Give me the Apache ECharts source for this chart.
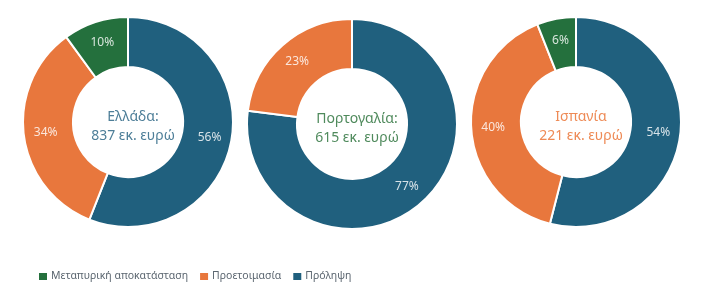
<!DOCTYPE html>
<html>
<head>
<meta charset="utf-8">
<script src="https://cdn.jsdelivr.net/npm/echarts@6/dist/echarts.min.js"></script>
<style>
html,body{margin:0;padding:0;background:#fff;}
#c{width:702px;height:294px;}
</style>
</head>
<body>
<div id="c"></div>
<script>
const categories = ['Πρόληψη', 'Προετοιμασία', 'Μεταπυρική αποκατάσταση'];
const greeceValues = [56, 34, 10];
const portugalValues = [77, 23, 0];
const spainValues = [54, 40, 6];
const countryLabels = ['Ελλάδα:\n837 εκ. ευρώ', 'Πορτογαλία:\n615 εκ. ευρώ', 'Ισπανία\n221 εκ. ευρώ'];
const legendOrder = ['Μεταπυρική αποκατάσταση', 'Προετοιμασία', 'Πρόληψη'];

const colors = {'Πρόληψη':'#20607e','Προετοιμασία':'#e8773d','Μεταπυρική αποκατάσταση':'#24703d'};
const centers = [[128,122],[352,124],[576,122]];
const centerColors = ['#4d7e98','#4f8a5c','#ee8a55'];
const font = 'Noto Sans';

function mk(vals, i){
  return {
    type:'pie',
    name: countryLabels[i],
    center: centers[i],
    radius:[55,105],
    startAngle:90,
    clockwise:true,
    avoidLabelOverlap:false,
    itemStyle:{borderColor:'#fff',borderWidth:2},
    label:{show:true,position:'inside',formatter:'{c}%',color:'rgba(255,255,255,0.82)',fontSize:12,fontFamily:font},
    labelLine:{show:false},
    emphasis:{disabled:true},
    data: categories.map((n,k)=>({name:n,value:vals[k],itemStyle:{color:colors[n]}})).filter(d=>d.value>0)
  };
}

const chart = echarts.init(document.getElementById('c'),null,{renderer:'canvas'});
chart.setOption({
  animation:false,
  color: categories.map(n=>colors[n]),
  title: countryLabels.map((t,i)=>({
    text:t, left:centers[i][0], top:centers[i][1]-19, textAlign:'center',
    textStyle:{color:centerColors[i],fontSize:14,fontWeight:'normal',fontFamily:font,lineHeight:19}
  })),
  legend:{
    data: legendOrder,
    left:32, top:266,
    itemWidth:10, itemHeight:9, itemGap:10,
    icon:'rect',
    textStyle:{color:'#5b6670',fontSize:10.5,fontFamily:font,padding:[0,0,0,-2]}
  },
  series:[mk(greeceValues,0),mk(portugalValues,1),mk(spainValues,2)]
});
</script>
</body>
</html>
